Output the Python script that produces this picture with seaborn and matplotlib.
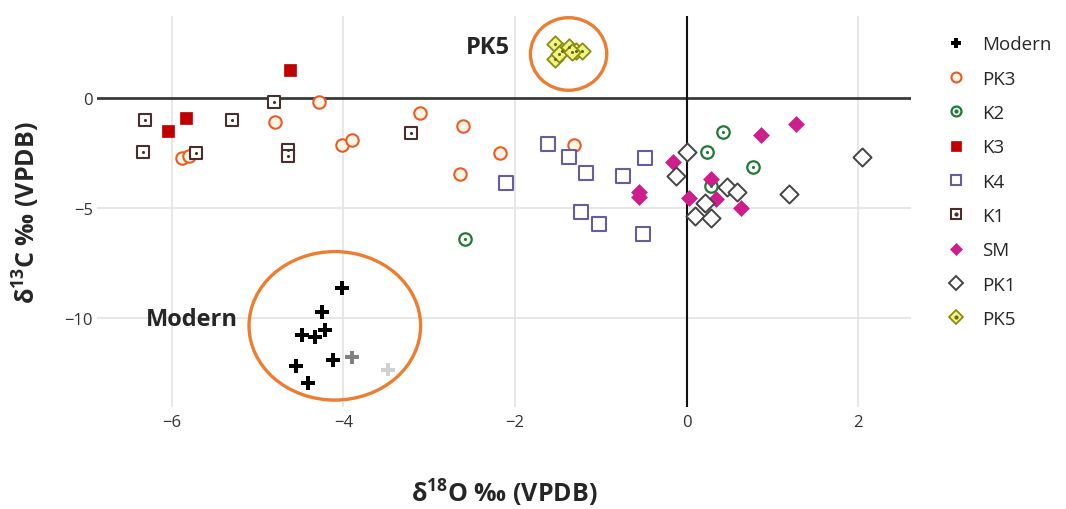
import matplotlib
matplotlib.use("Agg")
import matplotlib.pyplot as plt
import seaborn as sns
import pandas as pd
from matplotlib.lines import Line2D
from matplotlib.patches import Ellipse
from matplotlib.legend_handler import HandlerTuple

# --- data (d18O, d13C) ---
modern_x = [-4.02, -4.25, -4.22, -4.48, -4.33, -4.12, -4.55, -4.41]
modern_y = [-8.65, -9.74, -10.55, -10.77, -10.88, -11.90, -12.20, -12.94]
modern_faded_x = [-3.90, -3.48]
modern_faded_y = [-11.79, -12.36]
modern_faded_colors = ["#808080", "#d0d0d0"]

pk3_x = [-5.88, -5.80, -4.80, -4.28, -4.02, -3.90, -3.11, -2.61, -2.64, -2.18, -1.31]
pk3_y = [-2.72, -2.62, -1.08, -0.20, -2.15, -1.91, -0.67, -1.27, -3.47, -2.48, -2.14]

k2_x = [-2.58, 0.43, 0.24, 0.78, 0.28]
k2_y = [-6.41, -1.56, -2.44, -3.12, -3.98]

k3_x = [-4.62, -5.84, -6.05]
k3_y = [1.27, -0.89, -1.50]

k4_x = [-2.10, -1.61, -1.37, -1.17, -0.74, -0.48, -1.23, -1.02, -0.51]
k4_y = [-3.88, -2.09, -2.67, -3.39, -3.57, -2.74, -5.20, -5.73, -6.20]

k1_x = [-6.31, -6.33, -5.72, -5.30, -4.81, -4.65, -4.65, -3.21]
k1_y = [-1.01, -2.45, -2.48, -1.00, -0.20, -2.35, -2.62, -1.61]

sm_x = [1.28, 0.87, -0.16, -0.56, -0.56, 0.03, 0.28, 0.34, 0.20, 0.64]
sm_y = [-1.17, -1.68, -2.92, -4.26, -4.49, -4.56, -3.68, -4.59, -4.82, -5.01]

pk1_x = [0.0, -0.12, 0.47, 0.59, 0.10, 0.29, 0.21, 1.19, 2.04]
pk1_y = [-2.44, -3.56, -4.06, -4.29, -5.38, -5.47, -4.77, -4.36, -2.67]

pk5_x = [-1.53, -1.53, -1.45, -1.37, -1.29, -1.22, -1.49, -1.33]
pk5_y = [2.45, 1.78, 2.15, 2.30, 2.15, 2.15, 2.00, 2.08]

x_ticks = [-6, -4, -2, 0, 2]
y_ticks = [-10, -5, 0]

# style per group: (name, x, y, marker, size, face, edge, linewidth, centre dot)
groups = [
    ("Modern", modern_x, modern_y, "P", 90, "black", "black", 0.0, None),
    ("PK3", pk3_x, pk3_y, "o", 80, "#fff6e6", "#ee5a24", 1.5, None),
    ("K2", k2_x, k2_y, "o", 80, "white", "#1f7a32", 1.6, "#1f7a32"),
    ("K3", k3_x, k3_y, "s", 80, "#c00000", "#c00000", 0.5, None),
    ("K4", k4_x, k4_y, "s", 95, "white", "#6a5b9c", 1.5, None),
    ("K1", k1_x, k1_y, "s", 80, "white", "#4a2e2a", 1.5, "#4a2e2a"),
    ("SM", sm_x, sm_y, "D", 65, "#cc1f8c", "#cc1f8c", 0.5, None),
    ("PK1", pk1_x, pk1_y, "D", 85, "white", "#444444", 1.4, None),
    ("PK5", pk5_x, pk5_y, "D", 70, "#eef38a", "#8c8c10", 1.3, "#6b6b10"),
]

# annotation ellipses (centre x, centre y, width, height) in data units
pk5_ring = (-1.375, 2.0, 0.89, 3.3)
modern_ring = (-4.10, -10.36, 2.0, 6.75)
ring_color = "#ed7d31"

sns.set_style("white")
plt.rcParams["font.family"] = ["Open Sans", "DejaVu Sans"]
plt.rcParams["mathtext.fontset"] = "custom"
plt.rcParams["mathtext.rm"] = "Open Sans"
plt.rcParams["mathtext.bf"] = "Open Sans:bold"

fig = plt.figure(figsize=(10.66, 5.10), dpi=100)
ax = fig.add_axes([97 / 1066, 1 - 408 / 510, (911 - 97) / 1066, (408 - 16.7) / 510])

ax.set_xlim(-6.872, 2.616)
ax.set_ylim(-14.05, 3.74)

for v in x_ticks:
    if v != 0:
        ax.axvline(v, color="#e3e3e3", lw=1.2, zorder=0)
for v in y_ticks:
    if v != 0:
        ax.axhline(v, color="#e3e3e3", lw=1.2, zorder=0)
ax.axhline(0, color="#3a3a3a", lw=2.0, zorder=1)
ax.axvline(0, color="#111111", lw=1.5, zorder=1)

handles = []
for name, gx, gy, mk, size, face, edge, lw, dot in groups:
    df = pd.DataFrame({"x": gx, "y": gy})
    sns.scatterplot(data=df, x="x", y="y", ax=ax, marker=mk, s=size, color=edge,
                    facecolor=face, edgecolor=edge, linewidth=lw, zorder=3, legend=False)
    h = Line2D([], [], marker=mk, linestyle="none", markersize=size ** 0.5 * 0.8,
               markerfacecolor=face, markeredgecolor=edge, markeredgewidth=lw)
    if dot is not None:
        ax.scatter(gx, gy, marker="o", s=5, color=dot, linewidths=0, zorder=4)
        d = Line2D([], [], marker="o", linestyle="none", markersize=2, color=dot)
        h = (h, d)
    handles.append(h)

faded = pd.DataFrame({"x": modern_faded_x, "y": modern_faded_y})
ax.scatter(faded["x"], faded["y"], marker="P", s=90, c=modern_faded_colors, linewidths=0, zorder=3)

for cx, cy, w, hgt in (pk5_ring, modern_ring):
    ax.add_patch(Ellipse((cx, cy), w, hgt, fill=False, edgecolor=ring_color, lw=2.4, zorder=5))

ax.text(-2.32, 2.32, "PK5", fontsize=17, fontweight="bold", ha="center", va="center")
ax.text(-5.77, -10.05, "Modern", fontsize=17, fontweight="bold", ha="center", va="center")

ax.set_xticks(x_ticks)
ax.set_yticks(y_ticks)
ax.set_xticklabels(["\u22126", "\u22124", "\u22122", "0", "2"], fontsize=12, color="#333333")
ax.set_yticklabels(["\u221210", "\u22125", "0"], fontsize=12, color="#333333")
ax.tick_params(axis="both", length=0)
ax.tick_params(axis="x", pad=5)
ax.tick_params(axis="y", pad=3)
ax.set_xlabel("")
ax.set_ylabel("")
for sp in ax.spines.values():
    sp.set_visible(False)

fig.text(504 / 1066, 1 - 493 / 510, "δ$^{\\mathbf{18}}$O ‰ (VPDB)", fontsize=18,
         fontweight="bold", ha="center", va="center")
fig.text(26 / 1066, 1 - 213 / 510, "δ$^{\\mathbf{13}}$C ‰ (VPDB)", fontsize=18,
         fontweight="bold", ha="center", va="center", rotation=90)

fig.legend(handles, [g[0] for g in groups], loc="upper left", bbox_to_anchor=(935 / 1066, 1 - 27 / 510),
           frameon=False, fontsize=13.5, handlelength=1.2, handletextpad=0.8, labelspacing=0.87,
           borderpad=0, handler_map={tuple: HandlerTuple(ndivide=1, pad=0)})

fig.savefig("out.png", dpi=100)
